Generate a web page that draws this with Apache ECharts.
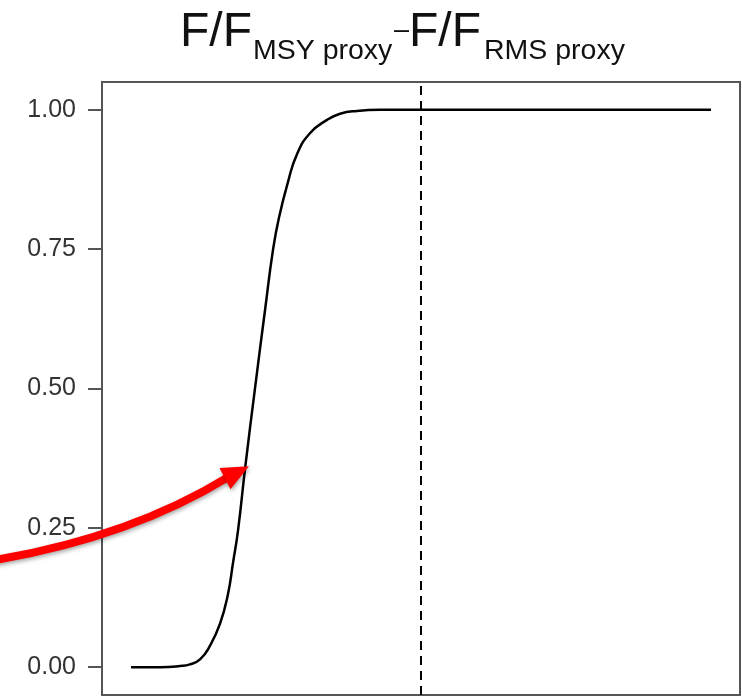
<!DOCTYPE html>
<html>
<head>
<meta charset="utf-8">
<style>
  html, body { margin: 0; padding: 0; background: #fff; }
  #chart { width: 742px; height: 697px; }
</style>
<script src="https://cdn.jsdelivr.net/npm/echarts@6/dist/echarts.min.js"></script>
</head>
<body>
<div id="chart"></div>
<script>
// Ratio F/F_MSY along the x axis, probability on the y axis
const ratioValues = [0, 0.100, 0.169, 0.203, 0.238, 0.272, 0.307, 0.334, 0.352, 0.369,
  0.393, 0.428, 0.462, 0.490, 0.510, 0.541, 0.572, 0.617, 0.676, 0.721,
  0.779, 0.859, 0.928, 1.1, 2.0];
const probValues = [0, 0, 0.002, 0.005, 0.014, 0.038, 0.078, 0.130, 0.188, 0.245,
  0.355, 0.502, 0.64, 0.75, 0.806, 0.87, 0.92, 0.958, 0.982, 0.993,
  0.998, 1.0, 1.0, 1.0, 1.0];
const yTicks = [0, 0.25, 0.5, 0.75, 1.0];
const referenceRatio = 1;      // F = F_MSY proxy
const arrowIndex = 10;         // point the red arrow lands on

const FONT = '"Liberation Sans", Arial, sans-serif';
const chart = echarts.init(document.getElementById('chart'), null, { renderer: 'canvas' });

const curve = ratioValues.map((x, i) => [x, probValues[i]]);

chart.setOption({
  animation: false,
  backgroundColor: '#ffffff',
  grid: {
    left: 102, top: 82, right: 2, bottom: 2,
    show: true, borderColor: '#555555', borderWidth: 2, backgroundColor: '#ffffff'
  },
  xAxis: {
    type: 'value', min: -0.1, max: 2.1,
    axisLine: { show: false }, axisTick: { show: false },
    axisLabel: { show: false }, splitLine: { show: false }
  },
  yAxis: {
    type: 'value', min: -0.05, max: 1.05,
    axisLine: { show: true, onZero: false, lineStyle: { color: '#555555', width: 2 } },
    axisTick: { show: true, length: 14, customValues: yTicks,
      lineStyle: { color: '#555555', width: 2 } },
    axisLabel: { show: true, customValues: yTicks, margin: 26,
      fontFamily: FONT, fontSize: 25, color: '#333333',
      formatter: v => v.toFixed(2) },
    splitLine: { show: false }
  },
  series: [{
    type: 'line',
    data: curve,
    smooth: 0.5,
    showSymbol: false,
    lineStyle: { color: '#000000', width: 2.5 },
    markLine: {
      silent: true, symbol: ['none', 'none'], label: { show: false },
      lineStyle: { color: '#000000', width: 2, type: [9, 6] },
      data: [{ xAxis: referenceRatio }]
    }
  }]
});

// Title pieces: large "F/F" with subscripted labels
const titleParts = [
  { text: 'F/F', x: 180, y: 57, size: 48, va: 'bottom' },
  { text: 'MSY proxy', x: 253, y: 66, size: 28.5, va: 'bottom' },
  { text: '\u2013', x: 394, y: 31, size: 27, va: 'middle' },
  { text: 'F/F', x: 409, y: 57, size: 48, va: 'bottom' },
  { text: 'RMS proxy', x: 484, y: 66, size: 28.5, va: 'bottom' }
];
const graphics = titleParts.map(p => ({
  type: 'text', x: p.x, y: p.y,
  style: { text: p.text, fontFamily: FONT, fontSize: p.size, fill: '#111111',
    align: 'left', verticalAlign: p.va }
}));

// Red annotation arrow pointing at the curve
const tip = chart.convertToPixel({ gridIndex: 0 }, [ratioValues[arrowIndex], probValues[arrowIndex]]);
const tx = tip[0] + 4, ty = tip[1] - 3;
const ux = 0.888, uy = -0.459;         // arrow direction at the head
const headLen = 27, headHalf = 12;
const bx = tx - headLen * ux, by = ty - headLen * uy;
const nx = -uy, ny = ux;
const shadow = { shadowBlur: 4, shadowColor: 'rgba(0,0,0,0.35)', shadowOffsetX: 1, shadowOffsetY: 2 };
graphics.push({
  type: 'bezierCurve',
  shape: { x1: -5, y1: 560, cpx1: 130, cpy1: 537, x2: bx + 3 * ux, y2: by + 3 * uy },
  style: Object.assign({ stroke: '#ff0000', lineWidth: 8, fill: null }, shadow),
  z: 100
});
graphics.push({
  type: 'polygon',
  shape: { points: [[tx, ty], [bx + headHalf * nx, by + headHalf * ny], [bx - headHalf * nx, by - headHalf * ny]] },
  style: Object.assign({ fill: '#ff0000' }, shadow),
  z: 101
});

chart.setOption({ graphic: graphics });
</script>
</body>
</html>
